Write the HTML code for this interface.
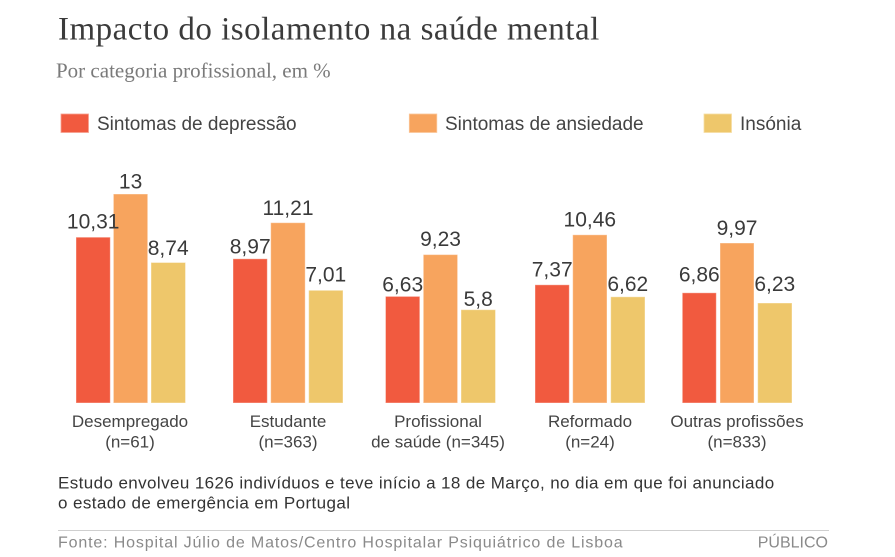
<!DOCTYPE html>
<html>
<head>
<meta charset="utf-8">
<style>
  html, body { margin: 0; padding: 0; background: #ffffff; }
  svg { display: block; }
  .serif { font-family: "Liberation Serif", serif; }
  .sans { font-family: "Liberation Sans", sans-serif; }
</style>
</head>
<body>
<svg width="895" height="557" viewBox="0 0 895 557" xmlns="http://www.w3.org/2000/svg">
  <rect x="0" y="0" width="895" height="557" fill="#ffffff"/>

  <!-- Title -->
  <text class="serif" x="58" y="39.3" font-size="33" letter-spacing="0.5" fill="#3b3b3b">Impacto do isolamento na saúde mental</text>
  <text class="serif" x="56" y="77.3" font-size="21" fill="#7a7a7a">Por categoria profissional, em %</text>

  <!-- Legend -->
  <rect x="61" y="114" width="27.5" height="18.5" fill="#F15A3F" stroke="#f7a08f" stroke-width="0.8"/>
  <text class="sans" x="97" y="130" font-size="19" fill="#444">Sintomas de depressão</text>
  <rect x="409.3" y="114" width="27.5" height="18.5" fill="#F7A45E" stroke="#fbc79b" stroke-width="0.8"/>
  <text class="sans" x="445" y="130" font-size="19" fill="#444">Sintomas de ansiedade</text>
  <rect x="704" y="114" width="27.5" height="18.5" fill="#EEC76B" stroke="#f6dea4" stroke-width="0.8"/>
  <text class="sans" x="740" y="130" font-size="19" fill="#444">Insónia</text>

  <!-- Bars -->
  <g stroke="rgba(255,255,255,0.4)" stroke-width="1">
    <rect x="76" y="237.2" width="34.3" height="165.8" fill="#F15A3F"/>
    <rect x="113.4" y="194" width="34.3" height="209" fill="#F7A45E"/>
    <rect x="151" y="262.5" width="34.5" height="140.5" fill="#EEC76B"/>

    <rect x="233" y="258.8" width="34.3" height="144.2" fill="#F15A3F"/>
    <rect x="270.7" y="222.7" width="34.5" height="180.3" fill="#F7A45E"/>
    <rect x="308.7" y="290.3" width="34.3" height="112.7" fill="#EEC76B"/>

    <rect x="385.5" y="296.4" width="34.3" height="106.6" fill="#F15A3F"/>
    <rect x="423.3" y="254.6" width="34.3" height="148.4" fill="#F7A45E"/>
    <rect x="461" y="309.7" width="34.5" height="93.3" fill="#EEC76B"/>

    <rect x="535" y="284.8" width="34.3" height="118.2" fill="#F15A3F"/>
    <rect x="572.7" y="234.8" width="34.3" height="168.2" fill="#F7A45E"/>
    <rect x="610.7" y="296.8" width="34.3" height="106.2" fill="#EEC76B"/>

    <rect x="682.3" y="292.8" width="34" height="110.2" fill="#F15A3F"/>
    <rect x="720" y="243" width="34" height="160" fill="#F7A45E"/>
    <rect x="757.7" y="303" width="34.3" height="100" fill="#EEC76B"/>
  </g>

  <!-- Value labels -->
  <g class="sans" font-size="21" fill="#3a3a3a" text-anchor="middle">
    <text x="93.2" y="228.3">10,31</text>
    <text x="130.6" y="188.3">13</text>
    <text x="168.2" y="255">8,74</text>

    <text x="250.2" y="253.3">8,97</text>
    <text x="288" y="215">11,21</text>
    <text x="325.8" y="281.7">7,01</text>

    <text x="402.7" y="291.7">6,63</text>
    <text x="440.5" y="246">9,23</text>
    <text x="478.2" y="306">5,8</text>

    <text x="552.2" y="276.7">7,37</text>
    <text x="589.8" y="226.5">10,46</text>
    <text x="627.8" y="291">6,62</text>

    <text x="699.3" y="281.7">6,86</text>
    <text x="737" y="235">9,97</text>
    <text x="774.8" y="291">6,23</text>
  </g>

  <!-- Category labels -->
  <g class="sans" font-size="17" fill="#444" text-anchor="middle">
    <text x="130" y="427">Desempregado</text>
    <text x="130" y="447.3">(n=61)</text>
    <text x="288" y="427">Estudante</text>
    <text x="288" y="447.3">(n=363)</text>
    <text x="438" y="427">Profissional</text>
    <text x="438" y="447.3">de saúde (n=345)</text>
    <text x="590" y="427">Reformado</text>
    <text x="590" y="447.3">(n=24)</text>
    <text x="737" y="427">Outras profissões</text>
    <text x="737" y="447.3">(n=833)</text>
  </g>

  <!-- Footnote -->
  <text class="sans" x="58" y="488.3" font-size="17" letter-spacing="0.4" fill="#333">Estudo envolveu 1626 indivíduos e teve início a 18 de Março, no dia em que foi anunciado</text>
  <text class="sans" x="58" y="508.3" font-size="17" letter-spacing="0.4" fill="#333">o estado de emergência em Portugal</text>

  <!-- Divider -->
  <line x1="58" y1="530.5" x2="829" y2="530.5" stroke="#cfcfcf" stroke-width="1"/>

  <!-- Source -->
  <text class="sans" x="58" y="547.7" font-size="16" letter-spacing="0.85" fill="#8a8a8a">Fonte: Hospital Júlio de Matos/Centro Hospitalar Psiquiátrico de Lisboa</text>
  <text class="sans" x="828" y="547.7" font-size="16" fill="#8a8a8a" text-anchor="end">PÚBLICO</text>
</svg>
</body>
</html>
